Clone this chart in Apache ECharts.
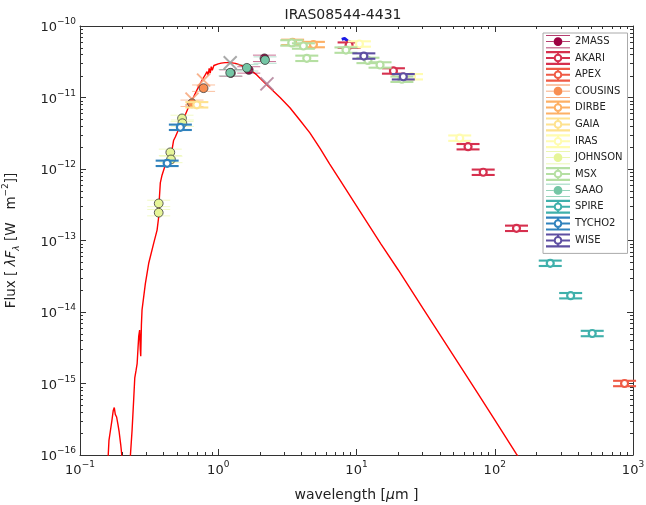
<!DOCTYPE html>
<html><head><meta charset="utf-8">
<script src="https://cdn.jsdelivr.net/npm/echarts@6/dist/echarts.min.js"></script>
<style>html,body{margin:0;padding:0;background:#fff}#c{width:646px;height:505px}</style>
</head><body><div id="c"></div>
<script>
// ---------------- DATA ----------------
// Model SED (wavelength in micron, lambda*F_lambda in W m^-2)
const modelLam = [0.158,0.162,0.166,0.170,0.174,0.177,0.180,0.184,0.188,0.192,0.197,0.203,0.215,0.228,0.232,0.238,0.244,0.249,0.254,0.259,0.263,0.266,0.270,0.273,0.275,0.278,0.281,0.297,0.314,0.341,0.361,0.371,0.373,0.381,0.392,0.414,0.44,0.463,0.475,0.49,0.532,0.575,0.611,0.66,0.721,0.77,0.805,0.83,0.845,0.86,0.875,0.89,0.905,0.93,0.96,1.0,1.05,1.12,1.22,1.33,1.44,1.6,1.75,1.9,2.25,2.8,3.3,3.9,4.6,5.45,6.4,7.6,10.6,15,20,30,50,75,100,143.6,160];
const modelFlux = [6e-17,1.6e-16,2.2e-16,3.0e-16,4.2e-16,4.6e-16,3.7e-16,3.4e-16,2.7e-16,2.1e-16,1.4e-16,8e-17,2e-17,6e-17,1.05e-16,2.2e-16,5.5e-16,1.2e-15,1.5e-15,1.9e-15,3.2e-15,4.6e-15,5.6e-15,3.0e-15,2.4e-15,6.5e-15,1.07e-14,2.5e-14,4.8e-14,9.1e-14,1.4e-13,2.15e-13,3.3e-13,6.4e-13,8.2e-13,1.14e-12,1.45e-12,1.85e-12,2.5e-12,2.83e-12,4.1e-12,5.6e-12,7.4e-12,1.0e-11,1.42e-11,1.8e-11,2.07e-11,2.3e-11,2.05e-11,2.55e-11,2.2e-11,2.7e-11,2.4e-11,2.8e-11,2.85e-11,2.95e-11,3.02e-11,3.07e-11,3.07e-11,3.0e-11,2.85e-11,2.6e-11,2.35e-11,2.07e-11,1.5e-11,1.0e-11,7.2e-12,4.8e-12,3.2e-12,1.95e-12,1.17e-12,7.0e-13,2.55e-13,9.0e-14,3.9e-14,1.15e-14,2.5e-15,7.4e-16,3.1e-16,1.03e-16,7.5e-17];

// Short spectrum segment
const specLam  = [7.82, 8.2, 8.7, 9.23];
const specFlux = [6.5e-11, 6.7e-11, 6.1e-11, 5.85e-11];

// Synthetic photometry (crosses)
const synthLam  = [0.646, 0.783, 1.22, 2.25];
const synthFlux = [9.5e-12, 1.75e-11, 3.07e-11, 1.55e-11];

// Photometry per catalogue
const lam2MASS = [1.235, 1.662, 2.159];
const flux2MASS = [2.2e-11, 2.43e-11, 3.53e-11];
const lamAKARI = [8.84, 18.5, 64.1, 82.5, 143.6];
const fluxAKARI = [5.4e-11, 2.35e-11, 2.05e-12, 9.0e-13, 1.48e-13];
const lamAPEX = [869];
const fluxAPEX = [1.0e-15];
const lamCOUSINS = [0.646, 0.783];
const fluxCOUSINS = [8.3e-12, 1.35e-11];
const lamDIRBE = [3.45, 4.88];
const fluxDIRBE = [5.9e-11, 5.5e-11];
const lamGAIA = [0.70];
const fluxGAIA = [7.9e-12];
const lamIRAS = [10.5, 25.0, 55.8];
const fluxIRAS = [5.6e-11, 1.95e-11, 2.7e-12];
const lamJOHNSON = [0.371, 0.371, 0.45, 0.455, 0.547, 0.55];
const fluxJOHNSON = [3.3e-13, 2.45e-13, 1.71e-12, 1.36e-12, 5.1e-12, 4.37e-12];
const lamMSX = [3.40, 4.13, 4.37, 8.39, 12.1, 14.8, 21.3];
const fluxMSX = [5.8e-11, 5.25e-11, 3.53e-11, 4.6e-11, 3.3e-11, 2.85e-11, 1.8e-11];
const lamSAAO = [1.22, 1.61, 2.18];
const fluxSAAO = [2.22e-11, 2.6e-11, 3.34e-11];
const lamSPIRE = [252, 354, 507];
const fluxSPIRE = [4.8e-14, 1.69e-14, 5.0e-15];
const lamTYCHO2 = [0.427, 0.532];
const fluxTYCHO2 = [1.2e-12, 3.83e-12];
const lamWISE = [11.3, 21.8];
const fluxWISE = [3.8e-11, 1.95e-11];

const bandNames = ['2MASS','AKARI','APEX','COUSINS','DIRBE','GAIA','IRAS','JOHNSON','MSX','SAAO','SPIRE','TYCHO2','WISE'];
const bandLams = [lam2MASS, lamAKARI, lamAPEX, lamCOUSINS, lamDIRBE, lamGAIA, lamIRAS, lamJOHNSON, lamMSX, lamSAAO, lamSPIRE, lamTYCHO2, lamWISE];
const bandFluxes = [flux2MASS, fluxAKARI, fluxAPEX, fluxCOUSINS, fluxDIRBE, fluxGAIA, fluxIRAS, fluxJOHNSON, fluxMSX, fluxSAAO, fluxSPIRE, fluxTYCHO2, fluxWISE];

// axis ranges
const xMin = 0.1, xMax = 1000, yMin = 1e-16, yMax = 1e-10;

// ---------------- STYLE ----------------
const FONT = 'DejaVu Sans';
const bandColors = ['#9e0142','#d6304e','#ef5a45','#f88e52','#fdb065','#fee28f','#fffcb0','#e6f598','#b5dfa2','#74c6a5','#3fb0ab','#3082bd','#5e4fa2'];
const bandFilled = [true,false,false,true,false,false,false,true,false,true,false,false,false];
const synthColors = ['#f7a77a','#f7a77a','#9a9a9a','#b08098'];

function zip(a, b) { return a.map((v, i) => [v, b[i]]); }

function pointRenderer(color, filled) {
  return function (params, api) {
    const p = api.coord([api.value(0), api.value(1)]);
    const hw = 11.5, dy = 2.7;
    const ch = [];
    if (filled) {
      ch.push({type:'line', shape:{x1:p[0]-hw, y1:p[1]-dy-0.5, x2:p[0]+hw, y2:p[1]-dy-0.5}, style:{stroke:color, lineWidth:1, opacity:0.55}});
      ch.push({type:'line', shape:{x1:p[0]-hw, y1:p[1]+dy+0.5, x2:p[0]+hw, y2:p[1]+dy+0.5}, style:{stroke:color, lineWidth:1, opacity:0.55}});
      ch.push({type:'circle', shape:{cx:p[0], cy:p[1], r:4.4}, style:{fill:color, stroke:'#3a3a3a', lineWidth:0.8}});
    } else {
      ch.push({type:'line', shape:{x1:p[0]-hw, y1:p[1]-dy, x2:p[0]+hw, y2:p[1]-dy}, style:{stroke:color, lineWidth:2.1}});
      ch.push({type:'line', shape:{x1:p[0]-hw, y1:p[1]+dy, x2:p[0]+hw, y2:p[1]+dy}, style:{stroke:color, lineWidth:2.1}});
      ch.push({type:'circle', shape:{cx:p[0], cy:p[1], r:3.5}, style:{fill:'#fff', stroke:color, lineWidth:2.2}});
    }
    return {type:'group', children: ch};
  };
}

function sciLabel(v) {
  const e = Math.round(Math.log10(v));
  return '{b|10}{s|' + (e < 0 ? '\u2212' + (-e) : e) + '}';
}
const sciRich = {
  b: {fontSize: 13, fontFamily: FONT, color: '#222', lineHeight: 17, verticalAlign: 'bottom'},
  s: {fontSize: 9, fontFamily: FONT, color: '#222', lineHeight: 10, verticalAlign: 'top'}
};

// minor tick positions (2..9 x decade)
const xMinor = [], yMinor = [];
for (let e = -1; e < 3; e++) for (let m = 2; m < 10; m++) xMinor.push([m * Math.pow(10, e), 1e-13, 0]);
for (let e = -16; e < -10; e++) for (let m = 2; m < 10; m++) yMinor.push([1, m * Math.pow(10, e), 1]);

// legend icons
const openIcon = 'path://M0 0H24V2.2H0Z M0 11.8H24V14H0Z M0 6H7.8V8H0Z M16.2 6H24V8H16.2Z M11 2.2H13V2.8H11Z M11 11.2H13V11.8H11Z M16.3 7A4.3 4.3 0 1 1 7.7 7A4.3 4.3 0 1 1 16.3 7Z M14.3 7A2.3 2.3 0 1 0 9.7 7A2.3 2.3 0 1 0 14.3 7Z';
const filledIcon = 'path://M0 0.4H24V1.2H0Z M0 12.8H24V13.6H0Z M0 6.6H7.5V7.4H0Z M16.5 6.6H24V7.4H16.5Z M16.4 7A4.4 4.4 0 1 1 7.6 7A4.4 4.4 0 1 1 16.4 7Z';

const series = [];
series.push({
  type: 'line', name: 'model', data: zip(modelLam, modelFlux), showSymbol: false, symbol: 'none',
  lineStyle: {color: '#ff0000', width: 1.4}, itemStyle: {color: '#ff0000'}, clip: true, z: 2, silent: true
});
series.push({
  type: 'line', name: 'spectrum', data: zip(specLam, specFlux), showSymbol: false, symbol: 'none',
  lineStyle: {color: '#1a1ae6', width: 3}, clip: true, z: 3, silent: true
});
series.push({
  type: 'custom', name: 'synthetic', data: zip(synthLam, synthFlux), z: 3, silent: true,
  renderItem: function (params, api) {
    const p = api.coord([api.value(0), api.value(1)]);
    const s = 6.5, c = synthColors[params.dataIndex];
    return {type: 'group', children: [
      {type:'line', shape:{x1:p[0]-s, y1:p[1]-s, x2:p[0]+s, y2:p[1]+s}, style:{stroke:c, lineWidth:2, opacity:0.85}},
      {type:'line', shape:{x1:p[0]-s, y1:p[1]+s, x2:p[0]+s, y2:p[1]-s}, style:{stroke:c, lineWidth:2, opacity:0.85}}
    ]};
  }
});
bandNames.forEach(function (nm, i) {
  series.push({
    type: 'custom', name: nm, data: zip(bandLams[i], bandFluxes[i]), z: 4 + i,
    itemStyle: {color: bandColors[i]},
    renderItem: pointRenderer(bandColors[i], bandFilled[i])
  });
});
series.push({
  type: 'custom', name: 'minorTicks', data: xMinor.concat(yMinor), silent: true, z: 20,
  renderItem: function (params, api) {
    const cs = params.coordSys;
    const L = 3, st = {stroke: '#333', lineWidth: 1};
    if (api.value(2) === 0) {
      const x = Math.round(api.coord([api.value(0), 1e-13])[0]) + 0.5;
      return {type:'group', children:[
        {type:'line', shape:{x1:x, y1:cs.y+cs.height, x2:x, y2:cs.y+cs.height-L}, style:st},
        {type:'line', shape:{x1:x, y1:cs.y, x2:x, y2:cs.y+L}, style:st}
      ]};
    } else {
      const y = Math.round(api.coord([1, api.value(1)])[1]) + 0.5;
      return {type:'group', children:[
        {type:'line', shape:{x1:cs.x, y1:y, x2:cs.x+L, y2:y}, style:st},
        {type:'line', shape:{x1:cs.x+cs.width, y1:y, x2:cs.x+cs.width-L, y2:y}, style:st}
      ]};
    }
  }
});

const axisLine = {show: true, onZero: false, lineStyle: {color: '#333', width: 1}};
const majorTick = {show: true, inside: true, length: 6, lineStyle: {color: '#333', width: 1}};

const option = {
  animation: false,
  backgroundColor: '#fff',
  textStyle: {fontFamily: FONT},
  title: {
    text: 'IRAS08544-4431', left: 338, top: 3, textAlign: 'center',
    textStyle: {fontFamily: FONT, fontSize: 14, fontWeight: 'normal', color: '#222'}
  },
  grid: {left: 80, right: 13, top: 26, bottom: 50, containLabel: false, outerBoundsMode: 'none'},
  legend: {
    orient: 'vertical', left: 543, top: 33,
    padding: [2, 5, 6, 3], itemGap: 2.8, itemWidth: 24, itemHeight: 14,
    backgroundColor: '#fff', borderColor: '#aaa', borderWidth: 1,
    textStyle: {fontFamily: FONT, fontSize: 10, color: '#222'},
    selectedMode: false,
    data: bandNames.map(function (nm, i) {
      return {name: nm, icon: bandFilled[i] ? filledIcon : openIcon, itemStyle: {color: bandColors[i]}};
    })
  },
  xAxis: [
    {type: 'log', logBase: 10, min: xMin, max: xMax, position: 'bottom', splitNumber: 4,
     axisLine: axisLine, axisTick: majorTick, splitLine: {show: false},
     axisLabel: {formatter: sciLabel, rich: sciRich, margin: 5},
     name: '{n|wavelength [}{i|\u03bc}{n|m ]}', nameLocation: 'middle', nameGap: 33,
     nameTextStyle: {rich: {
       n: {fontSize: 14, fontFamily: FONT, color: '#222'},
       i: {fontSize: 14, fontFamily: FONT, fontStyle: 'italic', color: '#222'}
     }}},
    {type: 'log', logBase: 10, min: xMin, max: xMax, position: 'top', splitNumber: 4,
     axisLine: axisLine, axisTick: majorTick, splitLine: {show: false}, axisLabel: {show: false}}
  ],
  yAxis: [
    {type: 'log', logBase: 10, min: yMin, max: yMax, position: 'left', splitNumber: 6,
     axisLine: axisLine, axisTick: majorTick, splitLine: {show: false},
     axisLabel: {formatter: sciLabel, rich: sciRich, margin: 4},
     name: '{n|Flux [ }{i|\u03bbF}{sub|\u03bb}{n| [W   m}{sup|\u22122}{n|]]}', nameLocation: 'middle', nameGap: 59, nameRotate: 90,
     nameTextStyle: {rich: {
       n: {fontSize: 13.5, fontFamily: FONT, color: '#222', lineHeight: 20, verticalAlign: 'middle'},
       i: {fontSize: 13.5, fontFamily: FONT, fontStyle: 'italic', color: '#222', lineHeight: 20},
       sub: {fontSize: 9, fontFamily: FONT, fontStyle: 'italic', color: '#222', lineHeight: 9, verticalAlign: 'bottom'},
       sup: {fontSize: 9, fontFamily: FONT, color: '#222', lineHeight: 9, verticalAlign: 'top'}
     }}},
    {type: 'log', logBase: 10, min: yMin, max: yMax, position: 'right', splitNumber: 6,
     axisLine: axisLine, axisTick: majorTick, splitLine: {show: false}, axisLabel: {show: false}}
  ],
  series: series
};

const chart = echarts.init(document.getElementById('c'), null, {renderer: 'canvas'});
chart.setOption(option);
</script>
</body></html>
